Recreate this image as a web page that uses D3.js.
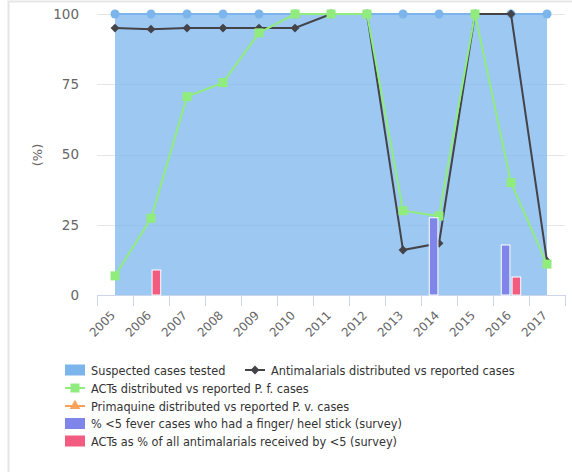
<!DOCTYPE html>
<html>
<head>
<meta charset="utf-8">
<script src="https://cdn.jsdelivr.net/npm/d3@7"></script>
<style>
  html, body { margin: 0; padding: 0; background: #fff; }
  svg { display: block; }
  text { font-family: "DejaVu Sans Condensed", "DejaVu Sans", sans-serif; }
</style>
</head>
<body>
<svg id="chart" width="572" height="472"></svg>
<script>
const years = ["2005","2006","2007","2008","2009","2010","2011","2012","2013","2014","2015","2016","2017"];
const suspectedTested = [100,100,100,100,100,100,100,100,100,100,100,100,100];
const antimalarials = [95,94.6,95,95,95,95,100,100,16,18.4,100,100,12];
const actsPf = [6.8,27.3,70.6,75.6,93.3,100,100,100,30,28.1,100,40,11];
const primaquine = [null,null,null,null,null,null,null,null,null,null,null,null,null];
const fingerStick = [null,null,null,null,null,null,null,null,null,27.5,null,17.8,null];
const actsUnder5 = [null,8.9,null,null,null,null,null,null,null,null,null,6.4,null];
const yTicks = [0,25,50,75,100];
const legendLabels = [
  "Suspected cases tested",
  "Antimalarials distributed vs reported cases",
  "ACTs distributed vs reported P. f. cases",
  "Primaquine distributed vs reported P. v. cases",
  "% <5 fever cases who had a finger/ heel stick (survey)",
  "ACTs as % of all antimalarials received by <5 (survey)"
];
const colors = ["#7cb5ec","#434348","#90ed7d","#f7a35c","#8085e9","#f15c80"];

const svg = d3.select("#chart");
// container frame
svg.append("path").attr("d","M8.5,480 V1.5 H580").attr("fill","none").attr("stroke","#e6e6e6").attr("stroke-width",2);

const x = d3.scaleBand().domain(years).range([97,565]).padding(0);
const y = d3.scaleLinear().domain([0,100]).range([295,14]);
const cx = d => x(d) + x.bandwidth()/2;

// gridlines
svg.append("g").selectAll("line").data(yTicks.filter(t=>t>0)).join("line")
  .attr("x1",97).attr("x2",565)
  .attr("y1",d=>Math.round(y(d))+0.5).attr("y2",d=>Math.round(y(d))+0.5)
  .attr("stroke","#e6e6e6").attr("stroke-width",1);

// y tick labels
svg.append("g").selectAll("text").data(yTicks).join("text")
  .attr("x",79).attr("y",d=>y(d)).attr("dy","0.36em")
  .attr("text-anchor","end").attr("fill","#666")
  .style("font-family","'DejaVu Sans', sans-serif").attr("font-size","13.5px")
  .text(d=>d);

// y axis title
svg.append("text").attr("transform","translate(42,155) rotate(-90)")
  .attr("text-anchor","middle").attr("fill","#666")
  .style("font-family","'DejaVu Sans', sans-serif").attr("font-size","13px").text("(%)");

// area series
const areaData = years.map((yr,i)=>({yr, v: suspectedTested[i]}));
svg.append("path").datum(areaData)
  .attr("d", d3.area().x(d=>cx(d.yr)).y0(y(0)).y1(d=>y(d.v)))
  .attr("fill","#7cb5ec").attr("fill-opacity",0.75);
svg.append("path").datum(areaData)
  .attr("d", d3.line().x(d=>cx(d.yr)).y(d=>y(d.v)))
  .attr("fill","none").attr("stroke","#7cb5ec").attr("stroke-width",2);
svg.append("g").selectAll("circle").data(areaData).join("circle")
  .attr("cx",d=>cx(d.yr)).attr("cy",d=>y(d.v)).attr("r",4.5).attr("fill","#7cb5ec");

// x axis
const xAxis = svg.append("g");
xAxis.append("line").attr("x1",97).attr("x2",565).attr("y1",295.5).attr("y2",295.5)
  .attr("stroke","#ccd6eb").attr("stroke-width",1);
const tickPos = years.map(yr=>x(yr)).concat([x(years[years.length-1])+x.bandwidth()]);
xAxis.selectAll("line.tick").data(tickPos).join("line").attr("class","tick")
  .attr("x1",d=>Math.round(d)+0.5).attr("x2",d=>Math.round(d)+0.5)
  .attr("y1",295).attr("y2",306).attr("stroke","#ccd6eb");
xAxis.selectAll("text").data(years).join("text")
  .attr("transform",d=>`translate(${cx(d)+1},${316}) rotate(-45)`)
  .attr("text-anchor","end")
  .style("font-family","'DejaVu Sans', sans-serif")
  .attr("fill","#666").attr("font-size","12px").text(d=>d);

// line series
function lineSeries(vals, color, marker) {
  const data = years.map((yr,i)=>({yr, v: vals[i]}));
  svg.append("path").datum(data)
    .attr("d", d3.line().defined(d=>d.v!=null).x(d=>cx(d.yr)).y(d=>y(d.v)))
    .attr("fill","none").attr("stroke",color).attr("stroke-width",2);
  svg.append("g").selectAll("path").data(data.filter(d=>d.v!=null)).join("path")
    .attr("transform",d=>`translate(${cx(d.yr)},${y(d.v)})`)
    .attr("d", d3.symbol().type(marker).size(marker===d3.symbolSquare?81:50))
    .attr("fill",color);
}
const diamond = {draw(ctx,size){const r=Math.sqrt(size)/1.6;ctx.moveTo(0,-r);ctx.lineTo(r,0);ctx.lineTo(0,r);ctx.lineTo(-r,0);ctx.closePath();}};
lineSeries(antimalarials, colors[1], diamond);
lineSeries(actsPf, colors[2], d3.symbolSquare);
lineSeries(primaquine, colors[3], d3.symbolTriangle);

// column series
const groupPad = 0.2, pointPad = 0.1;
const colSeries = [fingerStick, actsUnder5];
colSeries.forEach((vals, si)=>{
  const data = years.map((yr,i)=>({yr, v: vals[i]})).filter(d=>d.v!=null);
  const bw = x.bandwidth();
  const slot = bw*(1-2*groupPad)/colSeries.length;
  svg.append("g").selectAll("rect").data(data).join("rect")
    .attr("x",d=>x(d.yr)+bw*groupPad+slot*si+slot*pointPad)
    .attr("width",slot*(1-2*pointPad))
    .attr("y",d=>y(d.v)).attr("height",d=>y(0)-y(d.v))
    .attr("fill",colors[4+si]).attr("stroke","#fff").attr("stroke-width",1);
});

// legend
const legend = svg.append("g").attr("font-size","12.6px").attr("fill","#333");
const rows = [
  {idx:0, sx:65, ry:370},
  {idx:1, sx:245, ry:370},
  {idx:2, sx:65, ry:388},
  {idx:3, sx:65, ry:406},
  {idx:4, sx:65, ry:423.5},
  {idx:5, sx:65, ry:441}
];
const markers = [null, diamond, d3.symbolSquare, d3.symbolTriangle, null, null];
rows.forEach(r=>{
  const c = colors[r.idx];
  if (r.idx===0 || r.idx>=4) {
    legend.append("rect").attr("x",r.sx).attr("y",r.ry-5.5).attr("width",20).attr("height",11).attr("fill",c);
  } else {
    legend.append("line").attr("x1",r.sx).attr("x2",r.sx+20).attr("y1",r.ry).attr("y2",r.ry)
      .attr("stroke",c).attr("stroke-width",2);
    legend.append("path").attr("transform",`translate(${r.sx+10},${r.ry})`)
      .attr("d", d3.symbol().type(markers[r.idx]).size(markers[r.idx]===d3.symbolSquare?81:50)).attr("fill",c);
  }
  legend.append("text").attr("x",r.sx+26).attr("y",r.ry).attr("dy","0.36em")
    .attr("fill","#333").text(legendLabels[r.idx]);
});
</script>
</body>
</html>
